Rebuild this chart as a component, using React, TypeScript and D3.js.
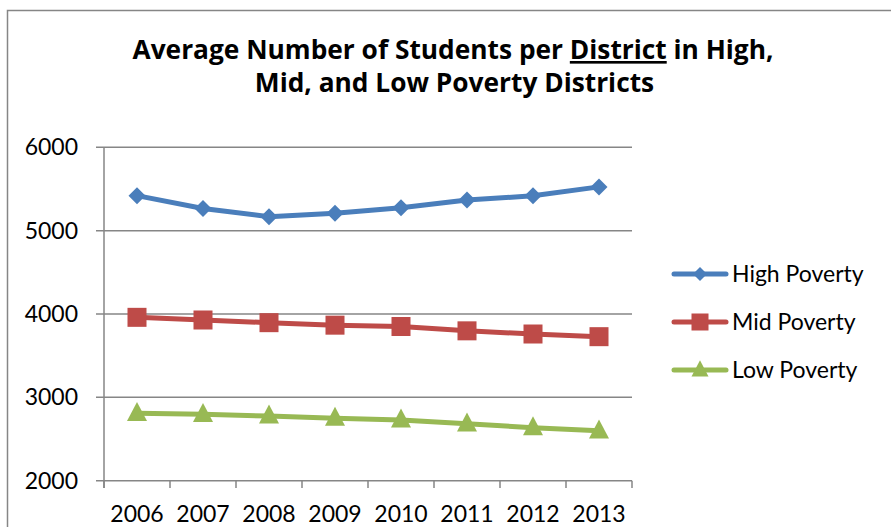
import React from "react";
import * as d3 from "d3";

const years = ["2006", "2007", "2008", "2009", "2010", "2011", "2012", "2013"];
const highPoverty = [5420, 5265, 5168, 5210, 5275, 5368, 5418, 5525];
const midPoverty = [3960, 3928, 3896, 3866, 3850, 3798, 3760, 3728];
const lowPoverty = [2808, 2796, 2776, 2750, 2728, 2682, 2636, 2598];
const yTicks = [2000, 3000, 4000, 5000, 6000];
const seriesNames = ["High Poverty", "Mid Poverty", "Low Poverty"];

const W = 891;
const H = 527;
const FONT = "Lato, 'Open Sans', sans-serif";
const TITLE_FONT = "'Open Sans', Lato, sans-serif";

export default function App() {
  const x = d3.scaleBand().domain(years).range([104, 632]);
  const y = d3.scaleLinear().domain([2000, 6000]).range([480.7, 147.3]);
  const line = d3
    .line<number>()
    .x((_, i) => (x(years[i]) as number) + x.bandwidth() / 2)
    .y((d) => y(d));

  const series = [
    { name: seriesNames[0], values: highPoverty, color: "#4A7EBB", shape: "diamond" },
    { name: seriesNames[1], values: midPoverty, color: "#BE4B48", shape: "square" },
    { name: seriesNames[2], values: lowPoverty, color: "#98B954", shape: "triangle" },
  ];

  const marker = (shape: string, cx: number, cy: number, color: string, s: number, key: string) => {
    if (shape === "diamond") {
      const r = s * 0.5;
      return (
        <path key={key} d={`M${cx},${cy - r}L${cx + r},${cy}L${cx},${cy + r}L${cx - r},${cy}Z`} fill={color} />
      );
    }
    if (shape === "square") {
      const r = s * 0.5;
      return <rect key={key} x={cx - r} y={cy - r} width={s} height={s} fill={color} />;
    }
    const h = s * 0.95;
    return (
      <path
        key={key}
        d={`M${cx},${cy - h * 0.6}L${cx + s / 2},${cy + h * 0.4}L${cx - s / 2},${cy + h * 0.4}Z`}
        fill={color}
      />
    );
  };

  const tickXs = d3.range(years.length + 1).map((i) => 104 + i * x.bandwidth());
  const legendY = [274, 322, 370];

  return (
    <svg width={W} height={H} style={{ position: "absolute", left: 0, top: 0, fontFamily: FONT }}>
      <rect x={7.5} y={10.5} width={W} height={H} fill="#fff" stroke="#868686" strokeWidth={1.5} />
      <text x={453} y={59} textAnchor="middle" fontWeight="bold" fontSize={26.3} fill="#000" fontFamily={TITLE_FONT}>
        Average Number of Students per <tspan style={{ textDecoration: "underline" }}>District</tspan> in High,
      </text>
      <text x={454.5} y={92} textAnchor="middle" fontWeight="bold" fontSize={26.3} fill="#000" fontFamily={TITLE_FONT}>
        Mid, and Low Poverty Districts
      </text>
      {yTicks.map((t) => (
        <g key={t}>
          <line x1={96} x2={632} y1={y(t)} y2={y(t)} stroke="#868686" strokeWidth={1.5} />
          <text x={78} y={y(t)} dy="0.35em" textAnchor="end" fontSize={23} fill="#000">
            {t}
          </text>
        </g>
      ))}
      <line x1={104} x2={104} y1={147.3} y2={488} stroke="#868686" strokeWidth={1.5} />
      {tickXs.map((tx, i) => (
        <line key={i} x1={tx} x2={tx} y1={480.7} y2={488} stroke="#868686" strokeWidth={1.5} />
      ))}
      {years.map((yr) => (
        <text key={yr} x={(x(yr) as number) + x.bandwidth() / 2} y={522} textAnchor="middle" fontSize={23} fill="#000">
          {yr}
        </text>
      ))}
      {series.map((s) => (
        <g key={s.name}>
          <path d={line(s.values) as string} fill="none" stroke={s.color} strokeWidth={5} strokeLinejoin="round" strokeLinecap="round" />
          {s.values.map((v, i) =>
            marker(
              s.shape,
              (x(years[i]) as number) + x.bandwidth() / 2,
              y(v),
              s.color,
              s.shape === "diamond" ? 17 : s.shape === "square" ? 19 : 20,
              `${s.name}-${i}`
            )
          )}
        </g>
      ))}
      {series.map((s, i) => (
        <g key={`leg-${s.name}`}>
          <line x1={674} x2={726} y1={legendY[i]} y2={legendY[i]} stroke={s.color} strokeWidth={5} strokeLinecap="round" />
          {marker(s.shape, 700, legendY[i], s.color, s.shape === "diamond" ? 14 : 17, `lm-${i}`)}
          <text x={732} y={legendY[i]} dy="0.35em" fontSize={23} fill="#000">
            {s.name}
          </text>
        </g>
      ))}
    </svg>
  );
}
